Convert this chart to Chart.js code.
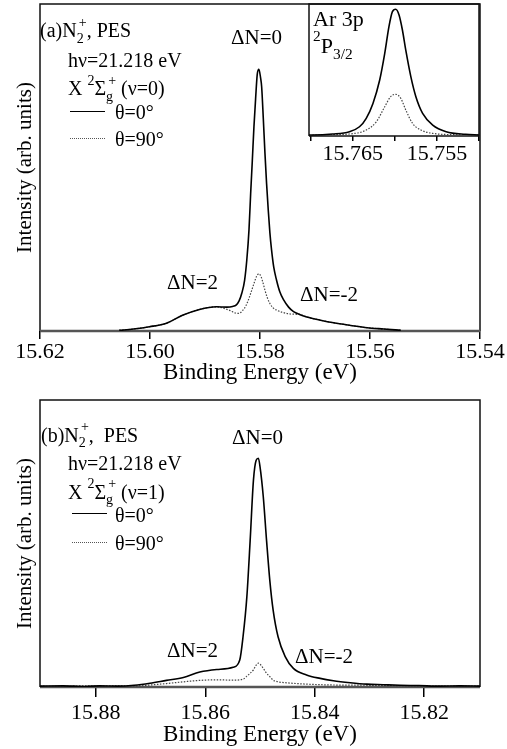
<!DOCTYPE html>
<html>
<head>
<meta charset="utf-8">
<script src="https://cdn.jsdelivr.net/npm/chart.js@4.4.1/dist/chart.umd.min.js"></script>
<style>
  body { margin: 0; background: #fff; }
  #wrap { position: relative; width: 507px; height: 749px; overflow: hidden;
          font-family: 'Liberation Serif', 'Times New Roman', serif; color: #000; }
  canvas { position: absolute; }
  .t { position: absolute; line-height: 1; white-space: nowrap; }
  .sb { position: relative; top: .4em; font-size: .7em; }
  .sp { position: relative; top: -.75em; font-size: .7em; }
  .st { margin-left: -.35em; }
  .ln { position: absolute; width: 35px; height: 0; }
</style>
</head>
<body>
<div id="wrap">
  <canvas id="chartA" width="507" height="390" style="left:0;top:0;width:507px;height:390px"></canvas>
  <canvas id="chartInset" width="185" height="165" style="left:305px;top:0;width:185px;height:165px"></canvas>
  <canvas id="chartB" width="507" height="359" style="left:0;top:390px;width:507px;height:359px"></canvas>
</div>
<script>
// ---- data (binding energy in eV, intensity in arb. units) ----

// (a) v=0
const energyA0 = [15.6056,15.6030,15.6001,15.5970,15.5941,15.5910,15.5879,15.5860,15.5850,15.5843,15.5838,15.5833,15.5828,15.5824,15.5820,15.5817,15.5814,15.5811,15.5808,15.5805,15.5802,15.5799,15.5797,15.5794,15.5791,15.5788,15.5785,15.5782,15.5779,15.5775,15.5770,15.5764,15.5757,15.5748,15.5739,15.5727,15.5715,15.5690,15.5666,15.5635,15.5605,15.5575,15.5544];
const intensA0 = [0.2,0.6,1.3,2.4,4.8,6.6,7.4,7.3,7.5,8.0,9.2,11.6,15.5,21.7,31,42,52,62.5,71,78.5,80,77.5,74.7,65,54.4,45,37,30,24.8,19.5,15.6,12,9.5,7.3,5.9,5.0,4.3,3.3,2.5,1.7,1.0,0.6,0.2];
const energyA90 = [15.6056,15.6030,15.6001,15.5970,15.5941,15.5910,15.5879,15.5867,15.5855,15.5845,15.5838,15.5832,15.5826,15.5820,15.5815,15.5810,15.5806,15.5802,15.5798,15.5795,15.5791,15.5787,15.5782,15.5777,15.5770,15.5757,15.5745,15.5727,15.5715,15.5690,15.5666,15.5635,15.5605,15.5575,15.5544];
const intensA90 = [0.2,0.6,1.3,2.4,4.8,6.6,7.4,7.0,6.3,5.5,5.4,6.2,7.6,10.0,12.5,15.0,16.8,17.5,16.6,15.0,12.5,10.3,8.4,7.2,6.4,5.6,5.2,5.0,4.3,3.3,2.5,1.7,1.0,0.6,0.2];
const ticksA = [15.54, 15.56, 15.58, 15.60, 15.62];

// inset: Ar 3p 2P3/2
const energyI0 = [15.7702,15.7698,15.7674,15.7654,15.7642,15.7634,15.7626,15.7618,15.7612,15.7607,15.7603,15.7599,15.7595,15.7591,15.7587,15.7581,15.7575,15.7567,15.7555,15.7539,15.7516,15.7500];
const intensI0 = [0.8,0.8,1.5,3.3,7,13.4,24.7,42.4,62.6,82.8,94,96,91.7,80.3,65,45,29.8,17.2,8.3,3.3,1.3,0.8];
const energyI90 = [15.7698,15.7674,15.7654,15.7634,15.7622,15.7612,15.7605,15.7599,15.7593,15.7587,15.7579,15.7569,15.7555,15.7530,15.7500];
const intensI90 = [0.6,1.0,1.5,4.5,10.8,22.2,29.8,31.6,28.6,19.7,9.6,4.5,2.0,1.0,0.6];
const ticksI = [15.750, 15.755, 15.760, 15.765, 15.770];
const labelsI = [15.755, 15.765];

// (b) v=1
const energyB0 = [15.8902,15.8860,15.8820,15.8793,15.8760,15.8730,15.8701,15.8671,15.8640,15.8610,15.8579,15.8549,15.8537,15.8531,15.8524,15.8518,15.8512,15.8507,15.8503,15.8500,15.8494,15.8488,15.8482,15.8476,15.8467,15.8454,15.8439,15.8415,15.8390,15.8366,15.8335,15.8305,15.8275,15.8244,15.8210,15.8171,15.8135,15.8098];
const intensB0 = [0.3,0.4,0.2,0.4,0.3,0.6,1.3,2.3,3.3,5.2,6.1,6.9,9.4,17.5,31.5,51,72,79,79.7,76.8,66.3,51,37,26.8,17.5,10.6,6.5,4.2,3.0,2.2,1.5,1.0,0.8,0.6,0.5,0.3,0.4,0.3];
const energyB90 = [15.8902,15.8860,15.8820,15.8793,15.8760,15.8730,15.8701,15.8671,15.8640,15.8610,15.8579,15.8549,15.8531,15.8524,15.8518,15.8512,15.8507,15.8503,15.8500,15.8494,15.8488,15.8482,15.8476,15.8467,15.8454,15.8415,15.8366,15.8305,15.8244,15.8171,15.8098];
const intensB90 = [0.3,0.2,0.4,0.3,0.4,0.3,0.7,1.2,1.8,2.3,2.5,2.4,2.7,3.8,4.8,6.0,7.6,8.3,8.0,6.5,4.8,3.6,2.4,1.8,1.5,1.0,0.7,0.6,0.4,0.3,0.3];
const ticksB = [15.82, 15.84, 15.86, 15.88];

// ---- chart setup ----
Chart.defaults.font.family = "'Liberation Serif', 'Times New Roman', serif";
Chart.defaults.color = '#000';
Chart.defaults.animation = false;

const pts = (xs, ys) => xs.map((x, i) => ({ x: x, y: ys[i] }));

// box round the plot area, bottom axis drawn as a heavier grey line
const framePlugin = {
  id: 'frame',
  beforeDatasetsDraw(chart, args, o) {
    const { ctx, chartArea: a } = chart;
    ctx.save();
    ctx.strokeStyle = '#111';
    ctx.lineWidth = 1.5;
    ctx.beginPath();
    ctx.moveTo(a.left, a.bottom);
    ctx.lineTo(a.left, a.top);
    ctx.lineTo(a.right, a.top);
    ctx.lineTo(a.right, a.bottom);
    ctx.stroke();
    ctx.strokeStyle = o.axisColor || '#111';
    ctx.lineWidth = o.axisWidth || 1.5;
    ctx.beginPath();
    ctx.moveTo(a.left, a.bottom);
    ctx.lineTo(a.right, a.bottom);
    ctx.stroke();
    ctx.restore();
  }
};

function solid(data) {
  return { data: data, borderColor: '#000', borderWidth: 1.6, pointRadius: 0,
           cubicInterpolationMode: 'monotone', fill: false };
}
function dotted(data) {
  return { data: data, borderColor: '#444', borderWidth: 1.2, borderDash: [1.5, 1.5],
           pointRadius: 0, cubicInterpolationMode: 'monotone', fill: false };
}

function xAxis(min, max, ticks, opt) {
  return {
    type: 'linear', reverse: true, min: min, max: max,
    afterBuildTicks: s => { s.ticks = ticks.map(v => ({ value: v })); },
    afterFit: s => { s.height = opt.height; },
    ticks: { font: { size: 22 }, padding: opt.pad, autoSkip: false, maxRotation: 0,
             callback: opt.fmt },
    grid: { drawOnChartArea: false, drawTicks: true, tickLength: opt.tickLen,
            color: '#000', lineWidth: 1.5 },
    border: { display: false },
    title: opt.title ? { display: true, text: opt.title, font: { size: 23 },
                         padding: { top: 0, bottom: opt.titlePad } } : { display: false }
  };
}

const yAxisMain = {
  min: 0, max: 100,
  afterFit: s => { s.width = 40; },
  ticks: { display: false },
  grid: { display: false },
  border: { display: false },
  title: { display: true, text: 'Intensity (arb. units)', font: { size: 21 },
           padding: { top: 13, bottom: 0 } }
};

new Chart(document.getElementById('chartA'), {
  type: 'line',
  data: { datasets: [solid(pts(energyA0, intensA0)), dotted(pts(energyA90, intensA90))] },
  options: {
    responsive: false,
    layout: { padding: { top: 4, right: 27, left: 0, bottom: 0 } },
    plugins: { legend: { display: false }, tooltip: { enabled: false },
               frame: { axisColor: '#555', axisWidth: 2.5 } },
    scales: {
      x: xAxis(15.54, 15.62, ticksA, { height: 59, tickLen: 8, pad: 0, titlePad: 3,
             title: 'Binding Energy (eV)', fmt: v => v.toFixed(2) }),
      y: yAxisMain
    }
  },
  plugins: [framePlugin]
});

new Chart(document.getElementById('chartInset'), {
  type: 'line',
  data: { datasets: [solid(pts(energyI0, intensI0)), dotted(pts(energyI90, intensI90))] },
  options: {
    responsive: false,
    layout: { padding: { top: 4, right: 11, left: 4, bottom: 0 } },
    plugins: { legend: { display: false }, tooltip: { enabled: false },
               frame: { axisColor: '#111', axisWidth: 1.5 } },
    scales: {
      x: xAxis(15.750, 15.7702, ticksI, { height: 29, tickLen: 5, pad: 0, titlePad: 0,
             fmt: v => labelsI.some(l => Math.abs(l - v) < 1e-6) ? v.toFixed(3) : '' }),
      y: { display: false, min: 0, max: 100 }
    }
  },
  plugins: [framePlugin]
});

new Chart(document.getElementById('chartB'), {
  type: 'line',
  data: { datasets: [solid(pts(energyB0, intensB0)), dotted(pts(energyB90, intensB90))] },
  options: {
    responsive: false,
    layout: { padding: { top: 10, right: 27, left: 0, bottom: 0 } },
    plugins: { legend: { display: false }, tooltip: { enabled: false },
               frame: { axisColor: '#555', axisWidth: 2.5 } },
    scales: {
      x: xAxis(15.8098, 15.8902, ticksB, { height: 62, tickLen: 10, pad: 3, titlePad: 0,
             title: 'Binding Energy (eV)', fmt: v => v.toFixed(2) }),
      y: yAxisMain
    }
  },
  plugins: [framePlugin]
});

// ---- text annotations ----
const wrap = document.getElementById('wrap');
function note(html, x, base, size) {
  const d = document.createElement('div');
  d.className = 't';
  d.style.left = x + 'px';
  d.style.top = (base - 0.84 * size) + 'px';
  d.style.fontSize = size + 'px';
  d.innerHTML = html;
  wrap.appendChild(d);
}
function sample(x, y, style) {
  const d = document.createElement('div');
  d.className = 'ln';
  d.style.left = x + 'px';
  d.style.top = y + 'px';
  d.style.borderTop = style;
  wrap.appendChild(d);
}
const n2 = 'N<span class="sb">2</span><span class="sp st">+</span>';
const sig = '<span class="sp">2</span>&Sigma;<span class="sb">g</span><span class="sp st">+</span>';

// panel (a)
note('(a)' + n2 + ', PES', 40, 37, 20);
note('h&nu;=21.218 eV', 68, 66.5, 20);
note('X ' + sig + ' (&nu;=0)', 68, 95, 20);
sample(70, 111, '1.5px solid #000');
note('&theta;=0&deg;', 115, 118.5, 20);
sample(70, 138, '1.2px dotted #555');
note('&theta;=90&deg;', 115, 146, 20);
note('&Delta;N=0', 231, 45, 21);
note('&Delta;N=2', 167, 290, 21);
note('&Delta;N=-2', 300, 301.5, 21);
note('Ar 3p', 313, 26.7, 22);
note('<span class="sp">2</span>P<span class="sb">3/2</span>', 313, 53, 22);

// panel (b)
note('(b)' + n2 + ',&nbsp; PES', 41, 441.7, 20);
note('h&nu;=21.218 eV', 68, 470, 20);
note('X ' + sig + ' (&nu;=1)', 68, 498.5, 20);
sample(72, 513, '1.5px solid #000');
note('&theta;=0&deg;', 115, 521.5, 20);
sample(72, 542, '1.2px dotted #555');
note('&theta;=90&deg;', 115, 550, 20);
note('&Delta;N=0', 232, 445, 21);
note('&Delta;N=2', 167, 657.7, 21);
note('&Delta;N=-2', 295, 663.3, 21);
</script>
</body>
</html>
